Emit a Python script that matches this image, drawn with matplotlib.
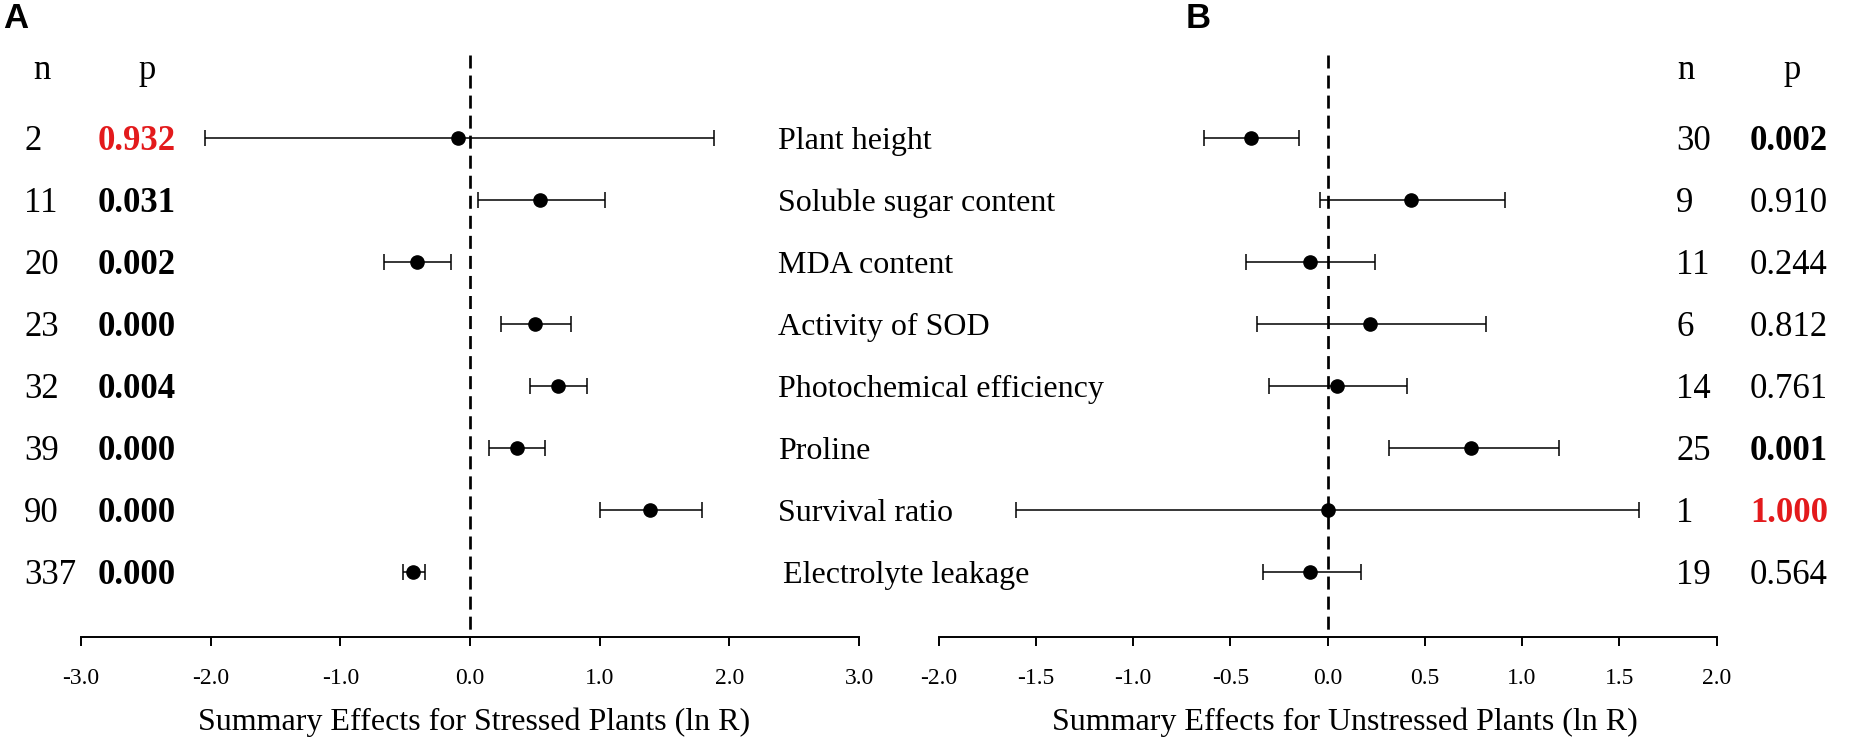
import matplotlib
matplotlib.use("Agg")
import matplotlib.pyplot as plt
import matplotlib.transforms as mtransforms
import numpy as np

# ---------------- data ----------------
categories = ["Plant height", "Soluble sugar content", "MDA content", "Activity of SOD",
              "Photochemical efficiency", "Proline", "Survival ratio", "Electrolyte leakage"]

# Panel A: stressed plants
n_stressed = [2, 11, 20, 23, 32, 39, 90, 337]
p_stressed = ["0.932", "0.031", "0.002", "0.000", "0.004", "0.000", "0.000", "0.000"]
mean_stressed = [-0.09, 0.54, -0.41, 0.50, 0.68, 0.36, 1.39, -0.44]
lo_stressed = [-2.04, 0.06, -0.66, 0.24, 0.46, 0.15, 1.00, -0.52]
hi_stressed = [1.88, 1.04, -0.15, 0.78, 0.90, 0.58, 1.79, -0.35]

# Panel B: unstressed plants
n_unstressed = [30, 9, 11, 6, 14, 25, 1, 19]
p_unstressed = ["0.002", "0.910", "0.244", "0.812", "0.761", "0.001", "1.000", "0.564"]
mean_unstressed = [-0.395, 0.43, -0.09, 0.22, 0.05, 0.74, 0.00, -0.09]
lo_unstressed = [-0.635, -0.04, -0.42, -0.365, -0.30, 0.317, -1.60, -0.33]
hi_unstressed = [-0.145, 0.914, 0.243, 0.815, 0.41, 1.19, 1.60, 0.17]

ticks_A = [-3.0, -2.0, -1.0, 0.0, 1.0, 2.0, 3.0]
ticks_B = [-2.0, -1.5, -1.0, -0.5, 0.0, 0.5, 1.0, 1.5, 2.0]
xlabel_A = "Summary Effects for Stressed Plants (ln R)"
xlabel_B = "Summary Effects for Unstressed Plants (ln R)"

# styles (kept apart from data)
bold_A = [True] * 8
red_A = [True, False, False, False, False, False, False, False]
bold_B = [True, False, False, False, False, True, True, False]
red_B = [False, False, False, False, False, False, True, False]

# ---------------- figure ----------------
W, H, DPI = 1852, 741, 100
fig = plt.figure(figsize=(W / DPI, H / DPI), dpi=DPI)
SERIF = ["Liberation Serif", "DejaVu Serif"]
SANS = ["Liberation Sans", "DejaVu Sans"]

def fx(px):
    return px / W

def fy(py_from_top):
    return (H - py_from_top) / H

axis_y, top_y = 637, 55
row0, row_step = 138, 62
ylim = ((axis_y - row0) / row_step, (top_y - row0) / row_step)
header_row = (67 - row0) / row_step

axA = fig.add_axes([fx(81), fy(axis_y), fx(859 - 81), fy(top_y) - fy(axis_y)])
axB = fig.add_axes([fx(938.5), fy(axis_y), fx(1716.5 - 938.5), fy(top_y) - fy(axis_y)])

rows = np.arange(len(categories))

for ax, mean, lo, hi, xlim, ticks in [
    (axA, mean_stressed, lo_stressed, hi_stressed, (-3, 3), ticks_A),
    (axB, mean_unstressed, lo_unstressed, hi_unstressed, (-2, 2), ticks_B),
]:
    mean = np.array(mean)
    err = [mean - np.array(lo), np.array(hi) - mean]
    ax.errorbar(mean, rows, xerr=err, fmt="o", color="black", ms=9.5,
                ecolor="black", elinewidth=1.1, capsize=6, capthick=1.1, zorder=3)
    # dashed zero line drawn from the top down so the first dash is whole
    ax.plot([0, 0], [ylim[1], ylim[0]], color="black", lw=1.95,
            linestyle=(0, (4.8, 2.6)), zorder=2, clip_on=False)
    ax.set_xlim(*xlim)
    ax.set_ylim(*ylim)
    ax.set_xticks(ticks)
    ax.set_xticklabels([f"{t:.1f}" for t in ticks], family=SERIF, fontsize=17)
    ax.tick_params(axis="x", direction="out", length=6.5, width=1.4, pad=16, colors="black")
    ax.set_yticks([])
    for s in ("top", "left", "right"):
        ax.spines[s].set_visible(False)
    ax.spines["bottom"].set_linewidth(1.4)
    ax.patch.set_alpha(0)

# text columns: x in figure coords, y from the row data
trA = mtransforms.blended_transform_factory(fig.transFigure, axA.transData)
trB = mtransforms.blended_transform_factory(fig.transFigure, axB.transData)

NUM_FS = 25
axA.text(fx(42), header_row, "n", transform=trA, ha="center", va="center_baseline",
         family=SERIF, fontsize=NUM_FS)
axA.text(fx(147), header_row, "p", transform=trA, ha="center", va="center_baseline",
         family=SERIF, fontsize=NUM_FS)
axB.text(fx(1686), header_row, "n", transform=trB, ha="center", va="center_baseline",
         family=SERIF, fontsize=NUM_FS)
axB.text(fx(1792), header_row, "p", transform=trB, ha="center", va="center_baseline",
         family=SERIF, fontsize=NUM_FS)

for i in rows:
    axA.text(fx(24), i, str(n_stressed[i]), transform=trA, ha="left", va="center_baseline",
             family=SERIF, fontsize=NUM_FS)
    axA.text(fx(98), i, p_stressed[i], transform=trA, ha="left", va="center_baseline",
             family=SERIF, fontsize=NUM_FS,
             fontweight="bold" if bold_A[i] else "normal",
             color="#e31a1c" if red_A[i] else "black")
    axB.text(fx(1676), i, str(n_unstressed[i]), transform=trB, ha="left", va="center_baseline",
             family=SERIF, fontsize=NUM_FS)
    axB.text(fx(1750), i, p_unstressed[i], transform=trB, ha="left", va="center_baseline",
             family=SERIF, fontsize=NUM_FS,
             fontweight="bold" if bold_B[i] else "normal",
             color="#e31a1c" if red_B[i] else "black")
    lx = 783 if i == len(categories) - 1 else 778
    axA.text(fx(lx), i, categories[i], transform=trA, ha="left", va="center_baseline",
             family=SERIF, fontsize=23)

fig.text(fx(474), fy(722), xlabel_A, ha="center", va="center", family=SERIF, fontsize=23)
fig.text(fx(1345), fy(722), xlabel_B, ha="center", va="center", family=SERIF, fontsize=23)

fig.text(fx(3), fy(2), "A", ha="left", va="top", family=SANS, fontweight="bold", fontsize=25)
fig.text(fx(1186), fy(2), "B", ha="left", va="top", family=SANS, fontweight="bold", fontsize=25)

fig.savefig("out.png", dpi=DPI, facecolor="white")
